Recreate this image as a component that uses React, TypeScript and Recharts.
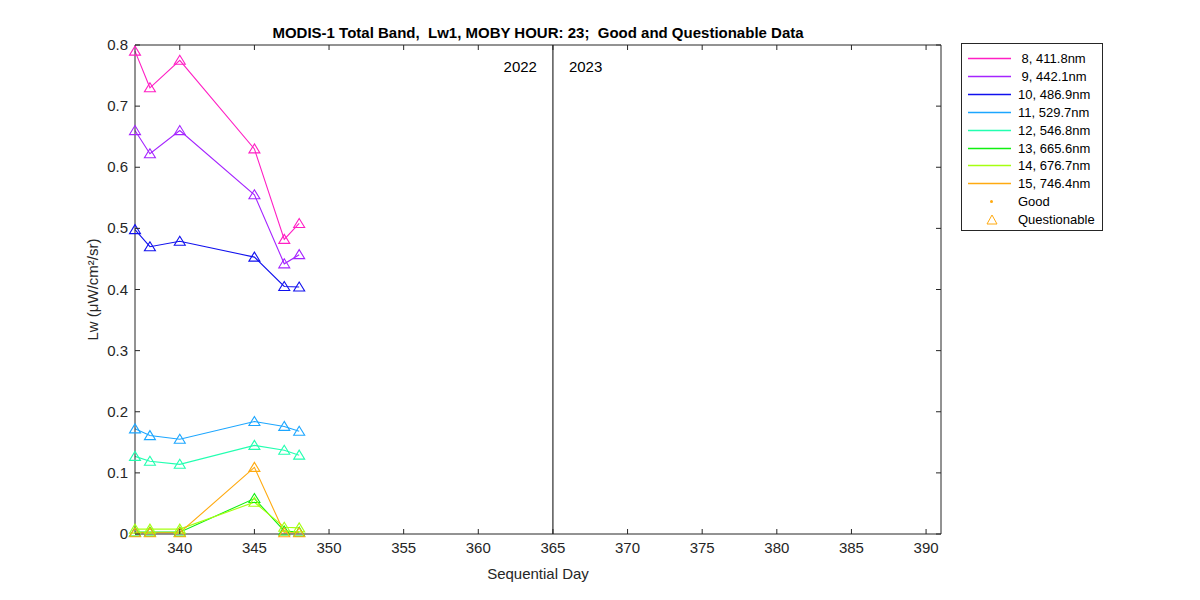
import React from 'react';
import { Line, LineChart, ReferenceLine, XAxis, YAxis } from 'recharts';

const days = [337, 338, 340, 345, 347, 348];
const band8 = [0.79, 0.73, 0.775, 0.63, 0.482, 0.508];
const band9 = [0.66, 0.622, 0.66, 0.555, 0.442, 0.457];
const band10 = [0.498, 0.47, 0.479, 0.453, 0.405, 0.404];
const band11 = [0.172, 0.161, 0.155, 0.184, 0.176, 0.168];
const band12 = [0.127, 0.119, 0.114, 0.145, 0.137, 0.129];
const band13 = [0.003, 0.003, 0.003, 0.058, 0.005, 0.003];
const band14 = [0.008, 0.008, 0.008, 0.052, 0.011, 0.01];
const band15 = [0.002, 0.002, 0.002, 0.109, 0.002, 0.002];

const bandKeys = ['b8', 'b9', 'b10', 'b11', 'b12', 'b13', 'b14', 'b15'];
const bandLabels = [
  ' 8, 411.8nm',
  ' 9, 442.1nm',
  '10, 486.9nm',
  '11, 529.7nm',
  '12, 546.8nm',
  '13, 665.6nm',
  '14, 676.7nm',
  '15, 746.4nm'
];
const bandColors = ['#ff1fc4', '#a524ff', '#1010ee', '#1ca6ff', '#22ffb0', '#10f010', '#a6ff10', '#ffaa10'];

const xTicks = [340, 345, 350, 355, 360, 365, 370, 375, 380, 385, 390];
const yTicks = [0, 0.1, 0.2, 0.3, 0.4, 0.5, 0.6, 0.7, 0.8];

const allBands = [band8, band9, band10, band11, band12, band13, band14, band15];
const data = days.map((day, i) => {
  const row: Record<string, number> = { day };
  bandKeys.forEach((k, j) => {
    row[k] = allBands[j][i];
  });
  return row;
});

const font = '"Liberation Sans", Arial, sans-serif';
const axisColor = '#262626';

function Triangle(props: any) {
  const { cx, cy, stroke, index } = props;
  if (cx == null || cy == null) return null;
  const pts = `${cx},${cy - 5} ${cx - 5.5},${cy + 4} ${cx + 5.5},${cy + 4}`;
  return <polygon key={index} points={pts} fill="none" stroke={stroke} strokeWidth={1.1} />;
}

// MATLAB style: tick marks point into the plot box
function makeTick(side: 'bottom' | 'top' | 'left' | 'right') {
  return function Tick(props: any) {
    const { x, y, payload } = props;
    if (side === 'bottom') {
      return (
        <g>
          <line x1={x} y1={y} x2={x} y2={y - 5} stroke={axisColor} />
          <text x={x} y={y + 19} textAnchor="middle" fontSize={15} fill={axisColor} fontFamily={font}>
            {payload.value}
          </text>
        </g>
      );
    }
    if (side === 'top') return <line x1={x} y1={y} x2={x} y2={y + 5} stroke={axisColor} />;
    if (side === 'right') return <line x1={x} y1={y} x2={x - 5} y2={y} stroke={axisColor} />;
    return (
      <g>
        <line x1={x} y1={y} x2={x + 5} y2={y} stroke={axisColor} />
        <text x={x - 7} y={y + 5} textAnchor="end" fontSize={15} fill={axisColor} fontFamily={font}>
          {payload.value}
        </text>
      </g>
    );
  };
}

const BottomTick = makeTick('bottom');
const TopTick = makeTick('top');
const LeftTick = makeTick('left');
const RightTick = makeTick('right');

export default function App() {
  return (
    <div style={{ position: 'absolute', left: 0, top: 0, width: 1200, height: 600, background: '#fff', fontFamily: font }}>
      <div
        style={{
          position: 'absolute',
          left: 135,
          width: 806,
          top: 24,
          textAlign: 'center',
          fontWeight: 'bold',
          fontSize: 15,
          color: '#000'
        }}
      >
        MODIS-1 Total Band,&nbsp; Lw1, MOBY HOUR: 23;&nbsp; Good and Questionable Data
      </div>
      <LineChart width={1200} height={600} data={data} margin={{ top: 44, right: 258, bottom: 36, left: 75 }}>
        <XAxis
          dataKey="day"
          type="number"
          domain={[337, 391]}
          ticks={xTicks}
          tick={<BottomTick />}
          tickSize={0}
          tickMargin={0}
          tickLine={false}
          height={30}
          axisLine={{ stroke: axisColor }}
        />
        <XAxis
          xAxisId="top"
          orientation="top"
          dataKey="day"
          type="number"
          domain={[337, 391]}
          ticks={xTicks}
          tick={<TopTick />}
          tickSize={0}
          tickMargin={0}
          tickLine={false}
          height={1}
          axisLine={{ stroke: axisColor }}
        />
        <YAxis
          type="number"
          domain={[0, 0.8]}
          ticks={yTicks}
          tick={<LeftTick />}
          tickSize={0}
          tickMargin={0}
          tickLine={false}
          width={60}
          axisLine={{ stroke: axisColor }}
          label={{
            value: 'Lw (μW/cm²/sr)',
            angle: -90,
            position: 'insideLeft',
            offset: 18,
            style: { fontSize: 15, fill: axisColor, fontFamily: font, textAnchor: 'middle' }
          }}
        />
        <YAxis
          yAxisId="right"
          orientation="right"
          type="number"
          domain={[0, 0.8]}
          ticks={yTicks}
          tick={<RightTick />}
          tickSize={0}
          tickMargin={0}
          tickLine={false}
          width={1}
          axisLine={{ stroke: axisColor }}
        />
        <ReferenceLine
          x={365}
          stroke="#000"
          strokeWidth={1}
          label={{ value: '2022', position: 'insideTopRight', offset: 16, style: { fontSize: 15, fill: '#000', fontFamily: font } }}
        />
        <ReferenceLine
          x={365}
          stroke="none"
          label={{ value: '2023', position: 'insideTopLeft', offset: 16, style: { fontSize: 15, fill: '#000', fontFamily: font } }}
        />
        {bandKeys.map((k, j) => (
          <Line
            key={k}
            dataKey={k}
            stroke={bandColors[j]}
            strokeWidth={1.1}
            type="linear"
            dot={<Triangle />}
            activeDot={false}
            isAnimationActive={false}
          />
        ))}
        <Line
          xAxisId="top"
          yAxisId="right"
          dataKey="b8"
          stroke="none"
          dot={false}
          activeDot={false}
          legendType="none"
          isAnimationActive={false}
        />
      </LineChart>
      <div
        style={{
          position: 'absolute',
          left: 538 - 100,
          width: 200,
          top: 565,
          textAlign: 'center',
          fontSize: 15,
          color: axisColor
        }}
      >
        Sequential Day
      </div>
      <div
        style={{
          position: 'absolute',
          left: 961,
          top: 43,
          width: 140,
          height: 186,
          border: '1px solid #262626',
          background: '#fff',
          fontSize: 13,
          color: '#000'
        }}
      >
        {bandLabels.map((lab, j) => (
          <div key={lab} style={{ position: 'absolute', left: 0, top: Math.round(6 + j * 17.9), height: 18, width: 140 }}>
            <svg style={{ position: 'absolute', left: 6, top: 7 }} width={43} height={3}>
              <line x1={0} y1={1.5} x2={43} y2={1.5} stroke={bandColors[j]} strokeWidth={1.3} />
            </svg>
            <div style={{ position: 'absolute', left: 56, top: 1, whiteSpace: 'pre' }}>{lab}</div>
          </div>
        ))}
        <div style={{ position: 'absolute', left: 0, top: Math.round(6 + 8 * 17.9), height: 18, width: 140 }}>
          <div style={{ position: 'absolute', left: 28, top: 7, width: 3, height: 3, borderRadius: 2, background: '#ffaa10' }} />
          <div style={{ position: 'absolute', left: 56, top: 1 }}>Good</div>
        </div>
        <div style={{ position: 'absolute', left: 0, top: Math.round(6 + 9 * 17.9), height: 18, width: 140 }}>
          <svg style={{ position: 'absolute', left: 24, top: 3 }} width={12} height={12}>
            <polygon points="6,1 1,10 11,10" fill="none" stroke="#ffaa10" strokeWidth={1} />
          </svg>
          <div style={{ position: 'absolute', left: 56, top: 1 }}>Questionable</div>
        </div>
      </div>
    </div>
  );
}
